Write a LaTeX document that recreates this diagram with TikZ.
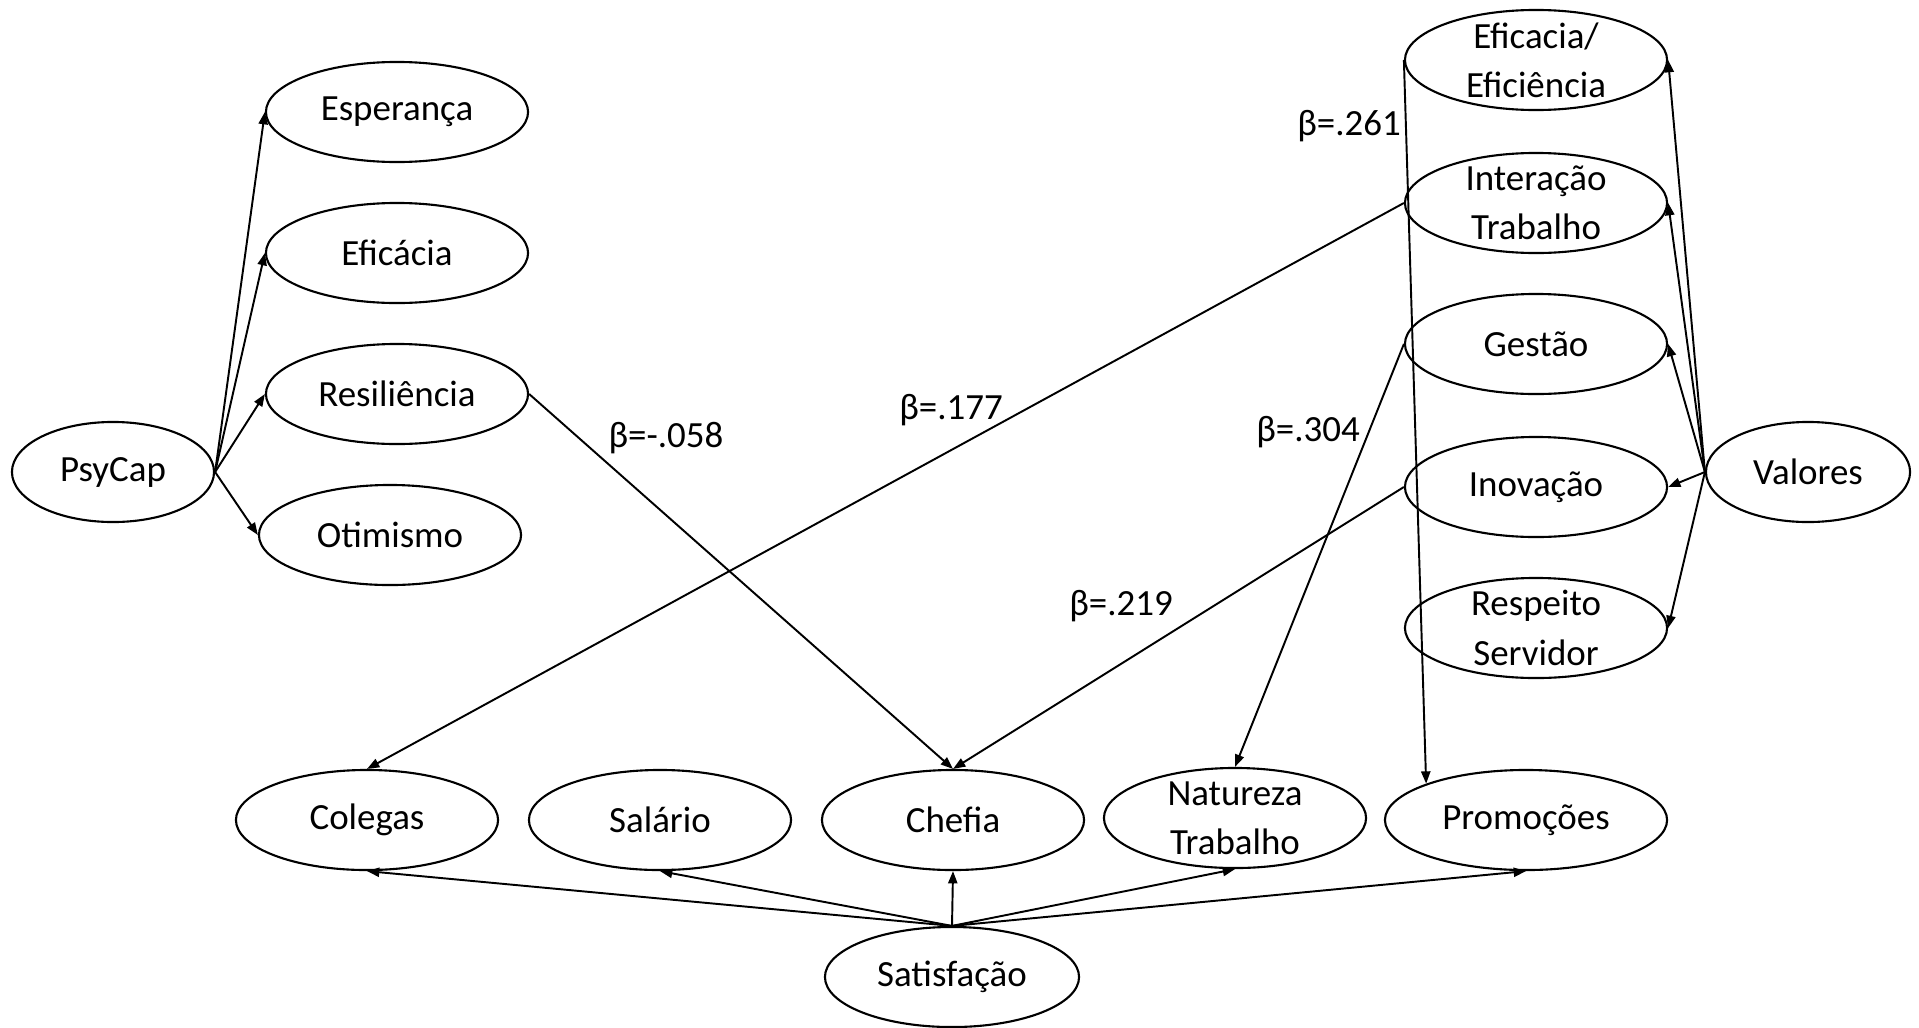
\documentclass[tikz,border=0pt]{standalone}
\usepackage{fontspec}
\setmainfont{Carlito}
\usetikzlibrary{shapes.geometric,arrows.meta}

\begin{document}
\begin{tikzpicture}[
  x=0.01cm, y=-0.01cm,
  font=\fontsize{10.5}{14}\selectfont,
  factor/.style={ellipse, draw, line width=0.6pt, inner sep=-4pt, minimum width=2.62cm, minimum height=1cm, align=center},
  link/.style={-{Triangle[length=3.5pt,width=2.6pt]}, line width=0.55pt}
]
\useasboundingbox (0,0) rectangle (1919,1027);

\node[factor, minimum width=2.02cm] (P) at (113, 472) {PsyCap};
\node[factor] (P1) at (397, 112) {Esperança};
\node[factor] (P2) at (397, 253) {Eficácia};
\node[factor] (P3) at (397, 394) {Resiliência};
\node[factor] (P4) at (390, 535) {Otimismo};

\node[factor, minimum width=2.04cm] (V) at (1808, 472) {Valores};
\node[factor] (V1) at (1536, 60) {Eficacia/\\Eficiência};
\node[factor] (V2) at (1536, 203) {Interação\\Trabalho};
\node[factor] (V3) at (1536, 344) {Gestão};
\node[factor] (V4) at (1536, 487) {Inovação};
\node[factor] (V5) at (1536, 628) {Respeito\\Servidor};

\node[factor, minimum width=2.54cm] (S) at (952, 977) {Satisfação};
\node[factor] (S1) at (367, 820) {Colegas};
\node[factor] (S2) at (660, 820) {Salário};
\node[factor] (S3) at (953, 820) {Chefia};
\node[factor] (S4) at (1235, 818) {Natureza\\Trabalho};
\node[factor, minimum width=2.82cm] (S5) at (1526, 820) {Promoções};

\node (bRes) at (666, 438) {β=-.058};
\node (bInt) at (951, 410) {β=.177};
\node (bEfi) at (1349, 126) {β=.261};
\node (bGes) at (1308, 432) {β=.304};
\node (bIno) at (1121, 606) {β=.219};

\foreach \j in {P1,P2,P3,P4} {
  \draw[link] (P.east) -- (\j.west);
}

\foreach \j in {V1,V2,V3,V4,V5} {
  \draw[link] (V.west) -- (\j.east);
}

\foreach \j in {S1,S2,S3,S4,S5} {
  \draw[link] (S.north) -- (\j.south);
}

\draw[link] (P3.east) -- (S3.north);
\draw[link] (V2.west) -- (S1.north);
\draw[link] (V1.west) -- (S5.160);
\draw[link] (V3.west) -- (S4.north);
\draw[link] (V4.west) -- (S3.north);

\end{tikzpicture}
\end{document}
